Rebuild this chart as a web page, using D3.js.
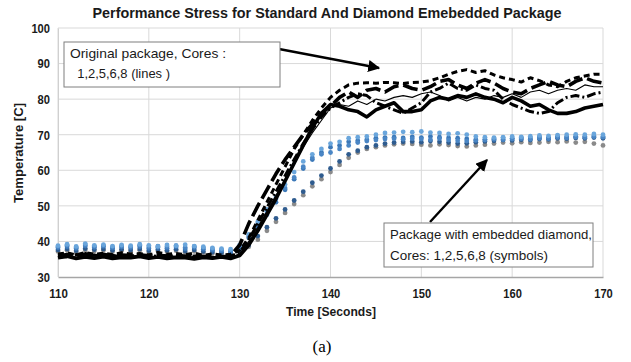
<!DOCTYPE html>
<html><head><meta charset="utf-8">
<script src="https://cdn.jsdelivr.net/npm/d3@7"></script>
<style>
html,body{margin:0;padding:0;background:#fff;}
svg{display:block;}
</style></head>
<body>
<svg id="chart" width="631" height="362"></svg>
<script>
// ---- data ----
const timeStart = 110, timeEnd = 170;
const xTicks = [110, 120, 130, 140, 150, 160, 170];
const yTicks = [30, 40, 50, 60, 70, 80, 90, 100];
const title = "Performance Stress for Standard And Diamond Emebedded Package";
const xTitle = "Time [Seconds]";
const yTitle = "Temperature [C]";
const caption = "(a)";
const noteLines = ["Original package, Cores :", "  1,2,5,6,8 (lines )"];
const noteSymbols = ["Package with embedded diamond,", "Cores: 1,2,5,6,8 (symbols)"];

// original package (lines), 1 s samples from 110 to 170
const lineCore1 = [36.5,36.8,36.2,36.9,36.4,36.7,36.3,36.8,36.5,36.6,36.2,36.9,36.4,36.6,36.3,36.7,36.1,36.5,36.2,36.4,
  37.5,41,46,51,56,61,66,70,74,77.5,80.5,82.5,84,84.5,84.6,84.5,84.7,84.6,84.4,84.7,84.8,85.2,86,87,87.8,88.3,87.5,88,86.8,86,85.5,84.8,86,85.2,84,83.5,85,86,86.5,87,87];
const lineCore2 = [35.8,36.0,35.6,36.2,35.9,36.1,35.7,36.0,35.8,36.2,35.9,35.6,36.0,35.8,36.1,35.7,35.9,35.6,35.8,35.5,
  36.5,40,44,48.5,53,57.5,62,66.5,70.5,74,77.5,78.5,78,79.5,78.5,80,79.5,80.5,81,80.5,81.5,82,81,79.5,80.5,79.5,80.5,80,81,80.5,81.5,80.5,82,82.5,81.5,82.5,83,82.5,84,83.5,83.5];
const lineCore5 = [35.4,35.8,35.2,35.6,35.3,35.7,35.2,35.5,35.4,35.8,35.3,35.6,35.2,35.5,35.4,35.1,35.5,35.3,35.6,35.2,
  36,39,43,47.5,52,57,62,67,72,76,78.5,78,77,76.5,75,77,78,79,76.5,76.5,77,79.5,80.5,80,81,80.5,81.5,80.5,80,79,80.5,79.5,78,78.5,77,76,76,76.5,77.5,78,78.5];
const lineCore6 = [36.0,35.7,36.3,35.9,36.2,35.8,36.1,35.6,36.0,35.9,36.2,35.7,36.0,35.8,35.6,35.9,35.7,35.4,35.6,35.8,
  37,40.5,45,49.5,54,58.5,63,67.5,71.5,75,77.5,79,80.5,81.5,81,79,78,77,76,77.5,79,82,83,84.5,83,82.5,84,83,82.5,80,78.5,77.5,76.5,76,76.5,79,80.5,81,80.5,81.5,82];
const lineCore8 = [35.9,36.3,35.8,36.5,36.1,36.4,35.9,36.2,36.0,36.3,35.8,36.1,35.9,36.2,35.8,36.0,35.7,35.9,35.6,36.0,
  39,45,50,54.5,59,63,66.5,70,73,76,78,80.5,82,80.5,82.5,83,82,83.5,84,83,82.5,83.5,85,85.5,84,83,84.5,85.5,84.5,83,82,81.5,83,84,85,84,83.5,85,86,85,84.5];

// package with embedded diamond (symbols)
const dotCore1 = [38.8,39.2,38.6,39.4,38.9,39.1,38.7,39.0,38.8,39.2,38.9,38.6,39.0,38.8,39.1,38.7,38.5,38.2,38.0,37.8,
  39,42,45.5,49,52.5,56,59.5,62.5,64.5,66,67.5,68,69,69.3,69.5,70,70.5,70.6,70.8,70.7,70.9,70.6,70.5,70.2,70.4,70.0,69.5,69.3,69.2,69.3,69.5,69.4,69.6,69.8,69.7,69.9,70,70.1,70,70.2,70];
const dotCore2 = [38.2,38.5,38.0,38.7,38.3,38.6,38.1,38.4,38.2,38.5,38.0,38.3,38.1,38.4,37.9,38.2,37.8,37.5,37.3,37.0,
  38,41,44,47.5,51,54.5,57.5,60.5,63,65,66.5,67,68,68.3,68.6,69,69.2,69.3,69.1,69.4,69.2,69.5,69.3,69.1,69.0,68.8,68.6,68.7,68.9,69.1,69.0,69.2,69.1,69.4,69.2,69.5,69.4,69.6,69.5,69.7,69.5];
const dotCore5 = [37.6,37.9,37.4,38.0,37.7,37.9,37.5,37.8,37.6,37.9,37.4,37.7,37.5,37.8,37.3,37.6,37.2,37.0,36.8,36.6,
  37,39,41.5,44,46.5,49,51.5,54,56.5,58.5,60.5,62.5,64.5,65.5,66.5,67,67.5,67.8,68,68.1,67.9,68.2,68,67.8,67.5,67.6,67.9,68.1,68.3,68.5,68.4,68.6,68.5,68.8,68.7,69,68.9,69.1,69,69.2,69];
const dotCore6 = [37.2,37.5,37.0,37.6,37.3,37.5,37.1,37.4,37.2,37.5,37.0,37.3,37.1,37.4,36.9,37.2,36.8,36.6,36.4,36.2,
  36.5,38.5,40.5,43,45.5,48,50.5,53,55.5,57.5,59.5,61.5,63.5,65,66,66.5,67,67.3,67.5,67.4,67.2,67,67.3,67.1,66.8,66.7,67,67.2,67.5,67.8,67.6,67.9,67.7,67.8,68,67.9,68.1,67.8,68,67.5,67];
const dotCore8 = [38.5,38.9,38.3,39.0,38.6,38.8,38.4,38.7,38.5,38.9,38.4,38.7,38.5,38.8,38.3,38.6,38.2,37.9,37.6,37.4,
  38.5,41.5,45,48.5,52,55,58,61,63.5,64.5,65,66,67,67.8,68.2,68.5,68.8,68.9,68.7,68.9,68.8,68.6,68.9,68.5,68.3,68.2,68.4,68.5,68.7,68.6,68.8,68.9,68.7,69,68.9,69.2,69.1,69.3,69.2,69.4,69.3];

// ---- chart ----
const svg = d3.select("#chart");
const x = d3.scaleLinear().domain([timeStart, timeEnd]).range([58, 603]);
const y = d3.scaleLinear().domain([30, 100]).range([277, 28]);
const sans = "'Liberation Sans',Arial,sans-serif";

// gridlines
svg.append("g").selectAll("line.h").data(yTicks.filter(d => d > 30)).join("line")
  .attr("x1", x(timeStart)).attr("x2", x(timeEnd))
  .attr("y1", d => y(d)).attr("y2", d => y(d))
  .attr("stroke", "#d9d9d9").attr("stroke-width", 1);
svg.append("g").selectAll("line.v").data(xTicks).join("line")
  .attr("x1", d => x(d)).attr("x2", d => x(d))
  .attr("y1", y(30)).attr("y2", y(100))
  .attr("stroke", "#d9d9d9").attr("stroke-width", 1);

// axes
function narrowTicks(sel) {
  sel.selectAll("text").attr("font-family", sans).attr("font-weight", "bold").attr("font-size", 13.5)
    .attr("fill", "#1a1a1a")
    .attr("textLength", d => String(d).length * 6.2).attr("lengthAdjust", "spacingAndGlyphs");
}
const xAxis = svg.append("g").attr("transform", `translate(0,${y(30)})`)
  .call(d3.axisBottom(x).tickValues(xTicks).tickSize(0).tickPadding(11).tickFormat(d3.format("d")));
xAxis.select(".domain").attr("stroke", "#a6a6a6").attr("stroke-width", 1.6);
narrowTicks(xAxis);

const yAxis = svg.append("g").attr("transform", `translate(${x(timeStart)},0)`)
  .call(d3.axisLeft(y).tickValues(yTicks).tickSize(0).tickPadding(8).tickFormat(d3.format("d")));
yAxis.select(".domain").attr("stroke", "#d0d0d0").attr("stroke-width", 1);
narrowTicks(yAxis);

// symbol series
const times = d3.range(timeStart, timeEnd + 1);
const dotSeries = [
  {v: dotCore6, c: "#8a8a8a"},
  {v: dotCore5, c: "#2f5c8f"},
  {v: dotCore2, c: "#3b78b8"},
  {v: dotCore8, c: "#4a86c5"},
  {v: dotCore1, c: "#6aa6dc"}
];
dotSeries.forEach(s => {
  svg.append("g").selectAll("circle").data(s.v).join("circle")
    .attr("cx", (d, i) => x(times[i])).attr("cy", d => y(d))
    .attr("r", 2.4).attr("fill", s.c);
});

// line series
const lineSeries = [
  {v: lineCore5, w: 3.6, dash: "none"},
  {v: lineCore6, w: 3, dash: "9,3,2,3"},
  {v: lineCore2, w: 1.1, dash: "none"},
  {v: lineCore8, w: 3.6, dash: "15,5"},
  {v: lineCore1, w: 3, dash: "6,4"}
];
const line = d3.line().x((d, i) => x(times[i])).y(d => y(d));
lineSeries.forEach(s => {
  svg.append("path").datum(s.v).attr("d", line)
    .attr("fill", "none").attr("stroke", "#000").attr("stroke-width", s.w)
    .attr("stroke-dasharray", s.dash).attr("stroke-linejoin", "round");
});

// arrow marker
svg.append("defs").append("marker").attr("id", "arr")
  .attr("viewBox", "0 0 10 10").attr("refX", 9).attr("refY", 5)
  .attr("markerWidth", 5).attr("markerHeight", 5).attr("orient", "auto")
  .append("path").attr("d", "M0,0 L10,5 L0,10 Z").attr("fill", "#000");

// note boxes
function note(x0, y0, w, h, lines, tx, dy) {
  svg.append("rect").attr("x", x0).attr("y", y0).attr("width", w).attr("height", h)
    .attr("fill", "#fff").attr("stroke", "#7f7f7f").attr("stroke-width", 1);
  const t = svg.append("text").attr("font-family", sans).attr("font-size", 13.5).attr("fill", "#1a1a1a")
    .attr("xml:space", "preserve");
  lines.forEach((l, i) => t.append("tspan").attr("x", tx).attr("y", y0 + 16 + i * dy).text(l));
  return t;
}
svg.append("line").attr("x1", 279).attr("y1", 49).attr("x2", 379).attr("y2", 68)
  .attr("stroke", "#000").attr("stroke-width", 2.4).attr("marker-end", "url(#arr)");
const n1 = note(64, 42, 216, 45, noteLines, 70, 20);
n1.selectAll("tspan").attr("textLength", (d, i, n) => i === 0 ? 156 : 100).attr("lengthAdjust", "spacingAndGlyphs");
svg.append("line").attr("x1", 430).attr("y1", 222).attr("x2", 487).attr("y2", 160)
  .attr("stroke", "#000").attr("stroke-width", 2.4).attr("marker-end", "url(#arr)");
const n2 = note(384, 223, 209, 44, noteSymbols, 390, 21);
n2.selectAll("tspan").attr("textLength", (d, i) => i === 0 ? 202 : 158).attr("lengthAdjust", "spacingAndGlyphs");

// titles
svg.append("text").attr("x", 327).attr("y", 18).attr("text-anchor", "middle")
  .attr("font-family", sans).attr("font-weight", "bold").attr("font-size", 15.5).attr("fill", "#1a1a1a")
  .attr("textLength", 469).attr("lengthAdjust", "spacingAndGlyphs")
  .text(title);
svg.append("text").attr("x", 331).attr("y", 316).attr("text-anchor", "middle")
  .attr("font-family", sans).attr("font-weight", "bold").attr("font-size", 13.5).attr("fill", "#1a1a1a")
  .attr("textLength", 90).attr("lengthAdjust", "spacingAndGlyphs")
  .text(xTitle);
svg.append("text").attr("transform", "translate(23,153) rotate(-90)").attr("text-anchor", "middle")
  .attr("font-family", sans).attr("font-weight", "bold").attr("font-size", 13.5).attr("fill", "#1a1a1a")
  .attr("textLength", 100).attr("lengthAdjust", "spacingAndGlyphs")
  .text(yTitle);
svg.append("text").attr("x", 322).attr("y", 352).attr("text-anchor", "middle")
  .attr("font-family", "'Liberation Serif','DejaVu Serif',serif").attr("font-size", 17).attr("fill", "#000")
  .text(caption);
</script>
</body></html>
